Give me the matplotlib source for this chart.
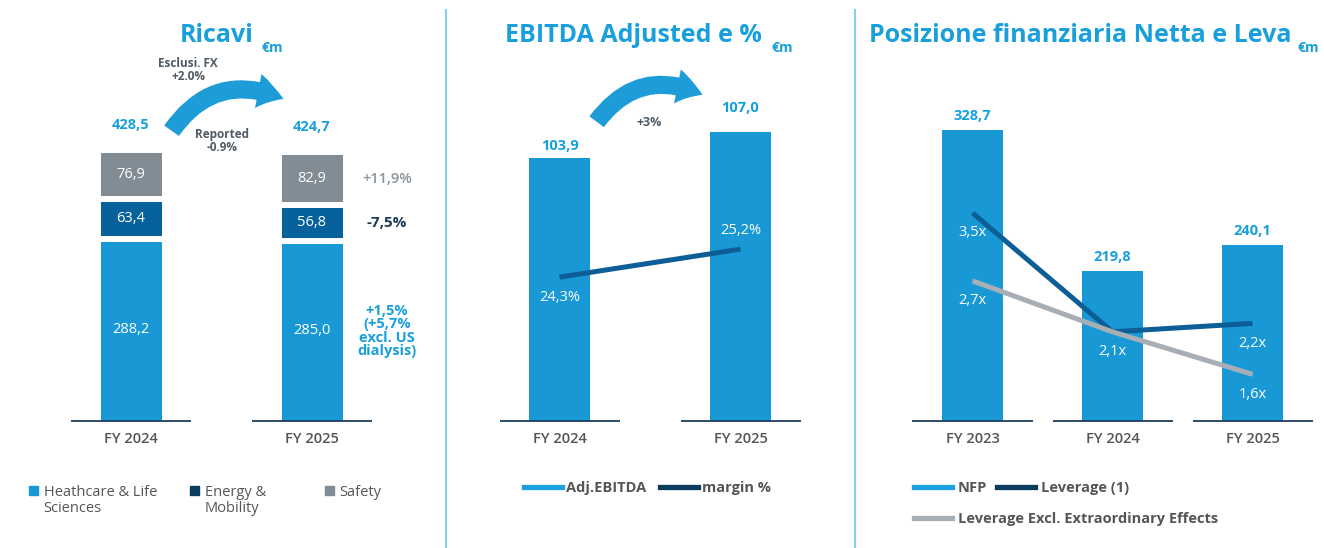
import numpy as np
import matplotlib
matplotlib.use('Agg')
import matplotlib.pyplot as plt
from matplotlib.patches import FancyArrowPatch, Patch
from matplotlib.lines import Line2D

plt.rcParams['font.family'] = ['Open Sans', 'DejaVu Sans']

# ---------------- data ----------------
years_rev = ['FY 2024', 'FY 2025']
healthcare = [288.2, 285.0]
energy = [63.4, 56.8]
safety = [76.9, 82.9]
rev_total = [428.5, 424.7]
change_safety = '+11,9%'
change_energy = '-7,5%'
change_health = '+1,5%\n(+5,7%\nexcl. US\ndialysis)'
rev_fx_label = 'Esclusi. FX'
rev_fx_value = '+2.0%'
rev_rep_label = 'Reported'
rev_rep_value = '-0.9%'

years_ebitda = ['FY 2024', 'FY 2025']
ebitda = [103.9, 107.0]
margin = [24.3, 25.2]
ebitda_growth = '+3%'

years_nfp = ['FY 2023', 'FY 2024', 'FY 2025']
nfp = [328.7, 219.8, 240.1]
leverage = [3.5, 2.1, 2.2]
leverage_excl = [2.7, 2.1, 1.6]

# ---------------- style ----------------
W, H = 1324, 548
BLUE = '#1899D6'
NAVY = '#07629C'
NAVY_LEG = '#0B3C5D'
GRAY = '#818C95'
TITLE = '#19A0DC'
TXT = '#555555'
AXIS = '#1D3D5C'
LINE = '#0D5E97'
LGRAY = '#A7AEB5'
SEP = '#86CDEF'
FS = 10.5


def fmt(v, d=1):
    return f"{v:.{d}f}".replace('.', ',')


def fx(px):
    return px / W


def fy(py):
    return 1 - py / H


def rect(l, t, r, b):
    return [l / W, 1 - b / H, (r - l) / W, (b - t) / H]


def style_axis(ax, labels):
    ax.set_xticks(np.arange(len(labels)), labels=labels)
    ax.tick_params(axis='x', length=0, pad=8, labelsize=FS, labelcolor=TXT)
    for lab in ax.get_xticklabels():
        lab.set_fontweight('semibold')
    ax.set_yticks([])
    for s in ax.spines.values():
        s.set_visible(False)


def baselines(ax, xs, y, half):
    ax.hlines(np.full(len(xs), y), xs - half, xs + half, color=AXIS, lw=1.3, zorder=3, clip_on=False)


fig = plt.figure(figsize=(W / 100, H / 100), dpi=100)
fig.patch.set_facecolor('white')

# ================= Panel 1: Ricavi =================
ax1 = fig.add_axes(rect(40.5, 100, 402.5, 421))
x1 = np.arange(len(years_rev))
bw1 = 61 / 181
gap = 6 / 181
h_arr = np.array(healthcare)
e_arr = np.array(energy)
s_arr = np.array(safety)
ax1.bar(x1, h_arr, width=bw1, color=BLUE, zorder=2)
ax1.bar(x1, e_arr, bottom=h_arr, width=bw1 + gap, color=NAVY,
        edgecolor='white', linewidth=4.3, zorder=2)
ax1.bar(x1, s_arr, bottom=h_arr + e_arr, width=bw1 + gap, color=GRAY,
        edgecolor='white', linewidth=4.3, zorder=2)
ax1.set_xlim(-0.5, 1.5)
ax1.set_ylim(0, rev_total[0] * 321 / 271)
style_axis(ax1, years_rev)
baselines(ax1, x1, 0, 60 / 181)

for i in range(len(x1)):
    ax1.text(i, h_arr[i] / 2, fmt(h_arr[i]), color='white', ha='center', va='center', fontsize=FS)
    ax1.text(i, h_arr[i] + e_arr[i] / 2, fmt(e_arr[i]), color='white', ha='center', va='center', fontsize=FS)
    ax1.text(i, h_arr[i] + e_arr[i] + s_arr[i] / 2, fmt(s_arr[i]), color='white', ha='center', va='center', fontsize=FS)
    ax1.annotate(fmt(rev_total[i]), xy=(i, rev_total[i]), xytext=(0, 25), textcoords='offset pixels',
                 ha='center', va='center', color=TITLE, fontweight='bold', fontsize=FS, annotation_clip=False)

xr = 1 + (387 - 312) / 181
last = len(x1) - 1
ax1.text(xr, h_arr[last] + e_arr[last] + s_arr[last] / 2, change_safety, color='#8A949C',
         ha='center', va='center', fontsize=FS, fontweight='semibold')
ax1.text(xr, h_arr[last] + e_arr[last] / 2, change_energy, color='#1C3A55',
         ha='center', va='center', fontsize=11, fontweight='bold')
ax1.text(xr, h_arr[last] / 2, change_health, color=TITLE, ha='center', va='center',
         fontsize=FS, fontweight='bold', linespacing=0.95)

arr1 = FancyArrowPatch((fx(170), fy(133)), (fx(286), fy(100)), transform=fig.transFigure,
                       connectionstyle='arc3,rad=-0.42',
                       arrowstyle='simple,head_length=0.95,head_width=1.25,tail_width=0.65',
                       mutation_scale=20, color='#1E9CD7', lw=0)
fig.add_artist(arr1)
fig.text(fx(188), fy(70), rev_fx_label + '\n' + rev_fx_value, ha='center', va='center',
         fontsize=8.5, fontweight='bold', color='#4E5B66', linespacing=0.95)
fig.text(fx(222), fy(141), rev_rep_label + '\n' + rev_rep_value, ha='center', va='center',
         fontsize=8.5, fontweight='bold', color='#4E5B66', linespacing=0.95)

# ================= Panel 2: EBITDA =================
ax2 = fig.add_axes(rect(469, 100, 831, 421))
x2 = np.arange(len(years_ebitda))
ax2.bar(x2, ebitda, width=bw1, color=BLUE, zorder=2)
lo2 = 72.55
ax2.set_xlim(-0.5, 1.5)
ax2.set_ylim(lo2, 110.8)
style_axis(ax2, years_ebitda)
baselines(ax2, x2, lo2, 60 / 181)
ebitda_dy = [12, 24]
for i, v in enumerate(ebitda):
    ax2.annotate(fmt(v), xy=(i, v), xytext=(0, ebitda_dy[i]), textcoords='offset pixels',
                 ha='center', va='center', color=TITLE, fontweight='bold', fontsize=FS, annotation_clip=False)
ax2t = ax2.twinx()
ax2t.plot(x2, margin, color=LINE, lw=3.6, solid_capstyle='butt', zorder=3)
ax2t.set_ylim(19.67, 30.0)
ax2t.axis('off')
margin_dy = [-20, 19]
for i, v in enumerate(margin):
    ax2t.annotate(fmt(v) + '%', xy=(i, v), xytext=(0, margin_dy[i]), textcoords='offset pixels',
                  ha='center', va='center', color='white', fontsize=FS)

arr2 = FancyArrowPatch((fx(595), fy(124)), (fx(705), fy(96)), transform=fig.transFigure,
                       connectionstyle='arc3,rad=-0.42',
                       arrowstyle='simple,head_length=0.95,head_width=1.25,tail_width=0.65',
                       mutation_scale=20, color='#1E9CD7', lw=0)
fig.add_artist(arr2)
fig.text(fx(649), fy(122), ebitda_growth, ha='center', va='center', fontsize=9, fontweight='bold', color='#4E5B66')

# ================= Panel 3: NFP =================
ax3 = fig.add_axes(rect(902.5, 100, 1322.5, 421))
x3 = np.arange(len(years_nfp))
ax3.bar(x3, nfp, width=61 / 140, color=BLUE, zorder=2)
lo3 = 104.5
ax3.set_xlim(-0.5, 2.5)
ax3.set_ylim(lo3, 351.4)
style_axis(ax3, years_nfp)
baselines(ax3, x3, lo3, 60 / 140)
for i, v in enumerate(nfp):
    ax3.annotate(fmt(v), xy=(i, v), xytext=(0, 14), textcoords='offset pixels',
                 ha='center', va='center', color=TITLE, fontweight='bold', fontsize=FS, annotation_clip=False)
ax3t = ax3.twinx()
ax3t.plot(x3, leverage, color=LINE, lw=3.6, solid_capstyle='butt', zorder=3)
ax3t.plot(x3, leverage_excl, color=LGRAY, lw=3.6, solid_capstyle='butt', zorder=4)
ax3t.set_ylim(1.05, 4.83)
ax3t.axis('off')
for i, v in enumerate(leverage_excl):
    ax3t.annotate(fmt(v) + 'x', xy=(i, v), xytext=(0, -20), textcoords='offset pixels',
                  ha='center', va='center', color='white', fontsize=FS)
for i, v in enumerate(leverage):
    if v != leverage_excl[i]:
        ax3t.annotate(fmt(v) + 'x', xy=(i, v), xytext=(0, -20), textcoords='offset pixels',
                      ha='center', va='center', color='white', fontsize=FS)

# ================= Titles =================
for cx, cxm, t in [(216.5, 262, 'Ricavi'), (633.5, 772, 'EBITDA Adjusted e %'),
                   (1080, 1298, 'Posizione finanziaria Netta e Leva')]:
    fig.text(fx(cx), fy(35), t, ha='center', va='center', fontsize=18, fontweight='bold', color=TITLE)
    fig.text(fx(cxm), fy(48), '€m', ha='left', va='center', fontsize=10, fontweight='bold', color=TITLE)

# ================= Separators =================
for sx in (446, 855):
    fig.add_artist(Line2D([fx(sx), fx(sx)], [fy(10), fy(548)], color=SEP, lw=1.5))

# ================= Legends =================
leg_kw = dict(frameon=False, borderpad=0, borderaxespad=0, fontsize=FS, loc='center left')
p1_items = [(29, BLUE, 'Heathcare & Life', 'Sciences'),
            (190, NAVY_LEG, 'Energy &', 'Mobility'),
            (325, GRAY, 'Safety', None)]
p1_legs = []
for lx, col, l1, l2 in p1_items:
    lg = fig.legend(handles=[Patch(color=col)], labels=[l1], bbox_to_anchor=(fx(lx), fy(492)),
                    handlelength=0.6, handleheight=0.6, handletextpad=0.4, labelcolor=TXT, **leg_kw)
    p1_legs.append((lg, l2))

bold_prop = dict(weight='bold', size=FS)
fig.legend(handles=[Line2D([], [], color='#1BA1E0', lw=3.8), Line2D([], [], color=NAVY_LEG, lw=3.8)],
           labels=['Adj.EBITDA', 'margin %'], ncol=2, bbox_to_anchor=(fx(524), fy(488)),
           handlelength=2.6, handletextpad=0.25, columnspacing=1.0, labelcolor=TXT,
           frameon=False, borderpad=0, borderaxespad=0, prop=bold_prop, loc='center left')
fig.legend(handles=[Line2D([], [], color='#1BA1E0', lw=3.8), Line2D([], [], color=NAVY_LEG, lw=3.8)],
           labels=['NFP', 'Leverage (1)'], ncol=2, bbox_to_anchor=(fx(914), fy(488)),
           handlelength=2.6, handletextpad=0.4, columnspacing=0.7, labelcolor=TXT,
           frameon=False, borderpad=0, borderaxespad=0, prop=bold_prop, loc='center left')
fig.legend(handles=[Line2D([], [], color=LGRAY, lw=3.8)],
           labels=['Leverage Excl. Extraordinary Effects'], bbox_to_anchor=(fx(914), fy(519)),
           handlelength=2.6, handletextpad=0.4, labelcolor=TXT,
           frameon=False, borderpad=0, borderaxespad=0, prop=bold_prop, loc='center left')

fig.canvas.draw()
for lg, l2 in p1_legs:
    if l2:
        bb = lg.get_texts()[0].get_window_extent()
        fig.text(bb.x0 / W, fy(508), l2, ha='left', va='center', fontsize=FS, color=TXT)

fig.savefig('out.png', dpi=100, facecolor='white')
